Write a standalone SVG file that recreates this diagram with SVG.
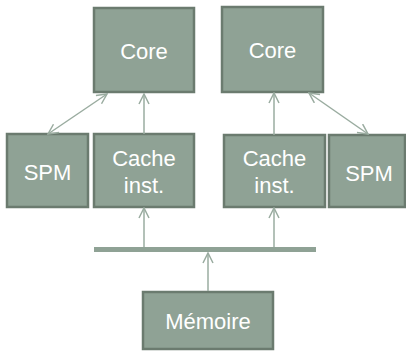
<svg xmlns="http://www.w3.org/2000/svg" width="406" height="352" viewBox="0 0 406 352">
<style>
.box{fill:#8fa295;stroke:#6b7b6f;stroke-width:2.5}
.t{font-family:"Liberation Sans",Arial,sans-serif;font-size:22px;fill:#ffffff;text-anchor:middle}
.c{stroke:#9aaca0;stroke-width:1.5;fill:none}
.bus{fill:#8fa295}
</style>
<defs>
<marker id="ah" viewBox="0 0 12 12" refX="11" refY="6" markerWidth="12" markerHeight="12" markerUnits="userSpaceOnUse" orient="auto-start-reverse">
<path d="M1,1 L11,6 L1,11" fill="none" stroke="#9aaca0" stroke-width="1.5"/>
</marker>
</defs>
<g id="core1"><rect class="box" x="94" y="8" width="100" height="84"/><text class="t" x="144" y="59">Core</text></g>
<g id="core2"><rect class="box" x="222" y="7" width="101" height="85"/><text class="t" x="272.5" y="58">Core</text></g>
<g id="spm1"><rect class="box" x="7" y="134" width="81" height="73"/><text class="t" x="47.5" y="180">SPM</text></g>
<g id="cache1"><rect class="box" x="94" y="134" width="100" height="73"/><text class="t" x="144" y="166">Cache</text><text class="t" x="144" y="193">inst.</text></g>
<g id="cache2"><rect class="box" x="224" y="135" width="101" height="72"/><text class="t" x="274.5" y="166">Cache</text><text class="t" x="274.5" y="193">inst.</text></g>
<g id="spm2"><rect class="box" x="329" y="135" width="76" height="72"/><text class="t" x="369" y="181">SPM</text></g>
<g id="bus"><rect class="bus" x="94" y="247" width="222" height="5"/></g>
<g id="memoire"><rect class="box" x="143" y="292" width="130" height="57"/><text class="t" x="208" y="329">Mémoire</text></g>
<g id="connectors">
<line class="c" x1="48" y1="134" x2="107" y2="94" marker-start="url(#ah)" marker-end="url(#ah)"/>
<line class="c" x1="144" y1="134" x2="144" y2="94" marker-end="url(#ah)"/>
<line class="c" x1="144" y1="247" x2="144" y2="208" marker-end="url(#ah)"/>
<line class="c" x1="274" y1="135" x2="274" y2="93" marker-end="url(#ah)"/>
<line class="c" x1="368" y1="134" x2="309" y2="93" marker-start="url(#ah)" marker-end="url(#ah)"/>
<line class="c" x1="274" y1="247" x2="274" y2="208" marker-end="url(#ah)"/>
<line class="c" x1="208" y1="291" x2="208" y2="253" marker-end="url(#ah)"/>
</g>
</svg>
